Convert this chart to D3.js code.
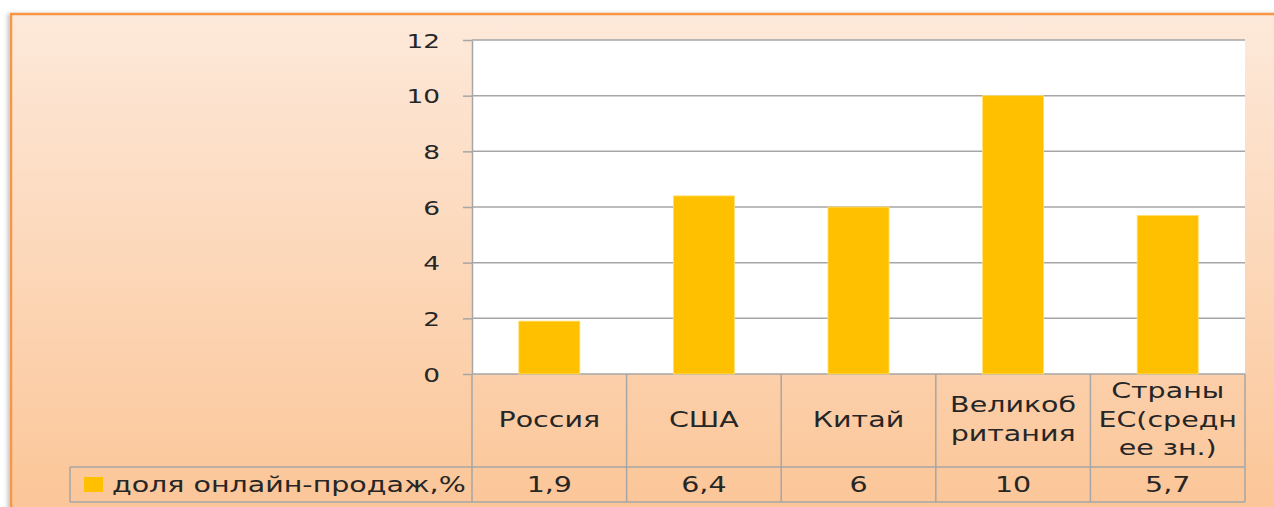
<!DOCTYPE html>
<html>
<head>
<meta charset="utf-8">
<script src="https://cdn.jsdelivr.net/npm/d3@7"></script>
<style>
  html, body { margin: 0; padding: 0; background: #fff; overflow: hidden; }
  text { font-family: "DejaVu Sans", sans-serif; fill: #262626; }
</style>
</head>
<body>
<script>
// chart data
var categories = ["Россия", "США", "Китай", "Великобритания", "Страны ЕС(среднее зн.)"];
var categoryLines = [["Россия"], ["США"], ["Китай"], ["Великоб", "ритания"], ["Страны", "ЕС(средн", "ее зн.)"]];
var values = [1.9, 6.4, 6, 10, 5.7];
var valueLabels = ["1,9", "6,4", "6", "10", "5,7"];
var yTicks = [0, 2, 4, 6, 8, 10, 12];
var seriesName = "доля онлайн-продаж,%";

var W = 1274, H = 507;
var stretch = 1.32; // text in the picture is drawn wide
var gridColor = "#a6a6a6";

var svg = d3.select("body").append("svg")
  .attr("width", W)
  .attr("height", H);

var defs = svg.append("defs");
var grad = defs.append("linearGradient")
  .attr("id", "bg")
  .attr("x1", 0).attr("y1", 0).attr("x2", 0).attr("y2", 1);
grad.append("stop").attr("offset", "0%").attr("stop-color", "#fde9da");
grad.append("stop").attr("offset", "100%").attr("stop-color", "#fbc18f");

var shadow = defs.append("filter").attr("id", "shadow")
  .attr("x", "-5%").attr("y", "-5%").attr("width", "110%").attr("height", "110%");
shadow.append("feDropShadow")
  .attr("dx", -2).attr("dy", 1).attr("stdDeviation", 2)
  .attr("flood-color", "#000").attr("flood-opacity", 0.25);

// outer frame (runs off the right and bottom of the view)
svg.append("rect")
  .attr("x", 11).attr("y", 14)
  .attr("width", 1320).attr("height", 560)
  .attr("fill", "url(#bg)")
  .attr("stroke", "#f79646")
  .attr("stroke-width", 2.5)
  .attr("filter", "url(#shadow)");

var plot = { left: 472, right: 1245, top: 40, bottom: 374 };
var row1Bottom = 467, row2Bottom = 502, legendLeft = 70;

var x = d3.scaleBand()
  .domain(categories)
  .range([plot.left, plot.right])
  .paddingInner(0).paddingOuter(0);

var y = d3.scaleLinear()
  .domain([0, 12])
  .range([plot.bottom, plot.top]);

// plot background
svg.append("rect")
  .attr("x", plot.left).attr("y", plot.top)
  .attr("width", plot.right - plot.left)
  .attr("height", plot.bottom - plot.top)
  .attr("fill", "#fff");

// gridlines
svg.append("g")
  .selectAll("line")
  .data(yTicks)
  .enter().append("line")
  .attr("x1", plot.left).attr("x2", plot.right)
  .attr("y1", function(d) { return y(d); })
  .attr("y2", function(d) { return y(d); })
  .attr("stroke", gridColor)
  .attr("stroke-width", 1.5);

// bars
var barW = x.bandwidth() * 0.395;
svg.append("g")
  .selectAll("rect")
  .data(values)
  .enter().append("rect")
  .attr("x", function(d, i) { return x(categories[i]) + x.bandwidth() / 2 - barW / 2; })
  .attr("y", function(d) { return y(d); })
  .attr("width", barW)
  .attr("height", function(d) { return y(0) - y(d); })
  .attr("fill", "#ffc000")
  .attr("stroke", "#ffe07a")
  .attr("stroke-width", 0.8);

// y axis
var yAxis = svg.append("g")
  .attr("transform", "translate(" + plot.left + ",0)")
  .call(d3.axisLeft(y).tickValues(yTicks).tickSize(9).tickSizeOuter(0));
yAxis.select(".domain").attr("stroke", gridColor).attr("stroke-width", 1.5);
yAxis.selectAll(".tick line").attr("stroke", gridColor).attr("stroke-width", 1.5);
yAxis.selectAll(".tick text")
  .attr("x", -32 / stretch)
  .attr("dy", "0.36em")
  .attr("transform", "scale(" + stretch + ",1)")
  .style("font-size", "20px")
  .style("font-family", "DejaVu Sans, sans-serif")
  .attr("fill", "#262626");

// data table lines
var table = svg.append("g");
var bounds = categories.map(function(c) { return x(c); }).concat([plot.right]);
table.selectAll("line.v")
  .data(bounds)
  .enter().append("line")
  .attr("x1", function(d) { return d; }).attr("x2", function(d) { return d; })
  .attr("y1", plot.bottom).attr("y2", row2Bottom)
  .attr("stroke", gridColor).attr("stroke-width", 1.5);
table.append("line")
  .attr("x1", legendLeft).attr("x2", plot.right)
  .attr("y1", row1Bottom).attr("y2", row1Bottom)
  .attr("stroke", gridColor).attr("stroke-width", 1.5);
table.append("line")
  .attr("x1", legendLeft).attr("x2", plot.right)
  .attr("y1", row2Bottom).attr("y2", row2Bottom)
  .attr("stroke", gridColor).attr("stroke-width", 1.5);
table.append("line")
  .attr("x1", legendLeft).attr("x2", legendLeft)
  .attr("y1", row1Bottom).attr("y2", row2Bottom)
  .attr("stroke", gridColor).attr("stroke-width", 1.5);

function wideText(g, px, py, str, anchor) {
  return g.append("text")
    .attr("transform", "translate(" + px + "," + py + ") scale(" + 1.39 + ",1)")
    .attr("text-anchor", anchor || "middle")
    .style("font-size", "20.5px")
    .text(str);
}

// category names
var lineH = 28.5;
categoryLines.forEach(function(lines, i) {
  var cx = x(categories[i]) + x.bandwidth() / 2;
  var mid = (plot.bottom + row1Bottom) / 2 + 7;
  var start = mid - (lines.length - 1) * lineH / 2 - 1;
  lines.forEach(function(l, j) {
    wideText(table, cx, start + j * lineH, l);
  });
});

// values row
valueLabels.forEach(function(v, i) {
  var cx = x(categories[i]) + x.bandwidth() / 2;
  wideText(table, cx, (row1Bottom + row2Bottom) / 2 + 7, v);
});

// legend key
table.append("rect")
  .attr("x", 84).attr("y", 477)
  .attr("width", 19).attr("height", 15)
  .attr("fill", "#ffc000");
wideText(table, 112, (row1Bottom + row2Bottom) / 2 + 7, seriesName, "start");
</script>
</body>
</html>
